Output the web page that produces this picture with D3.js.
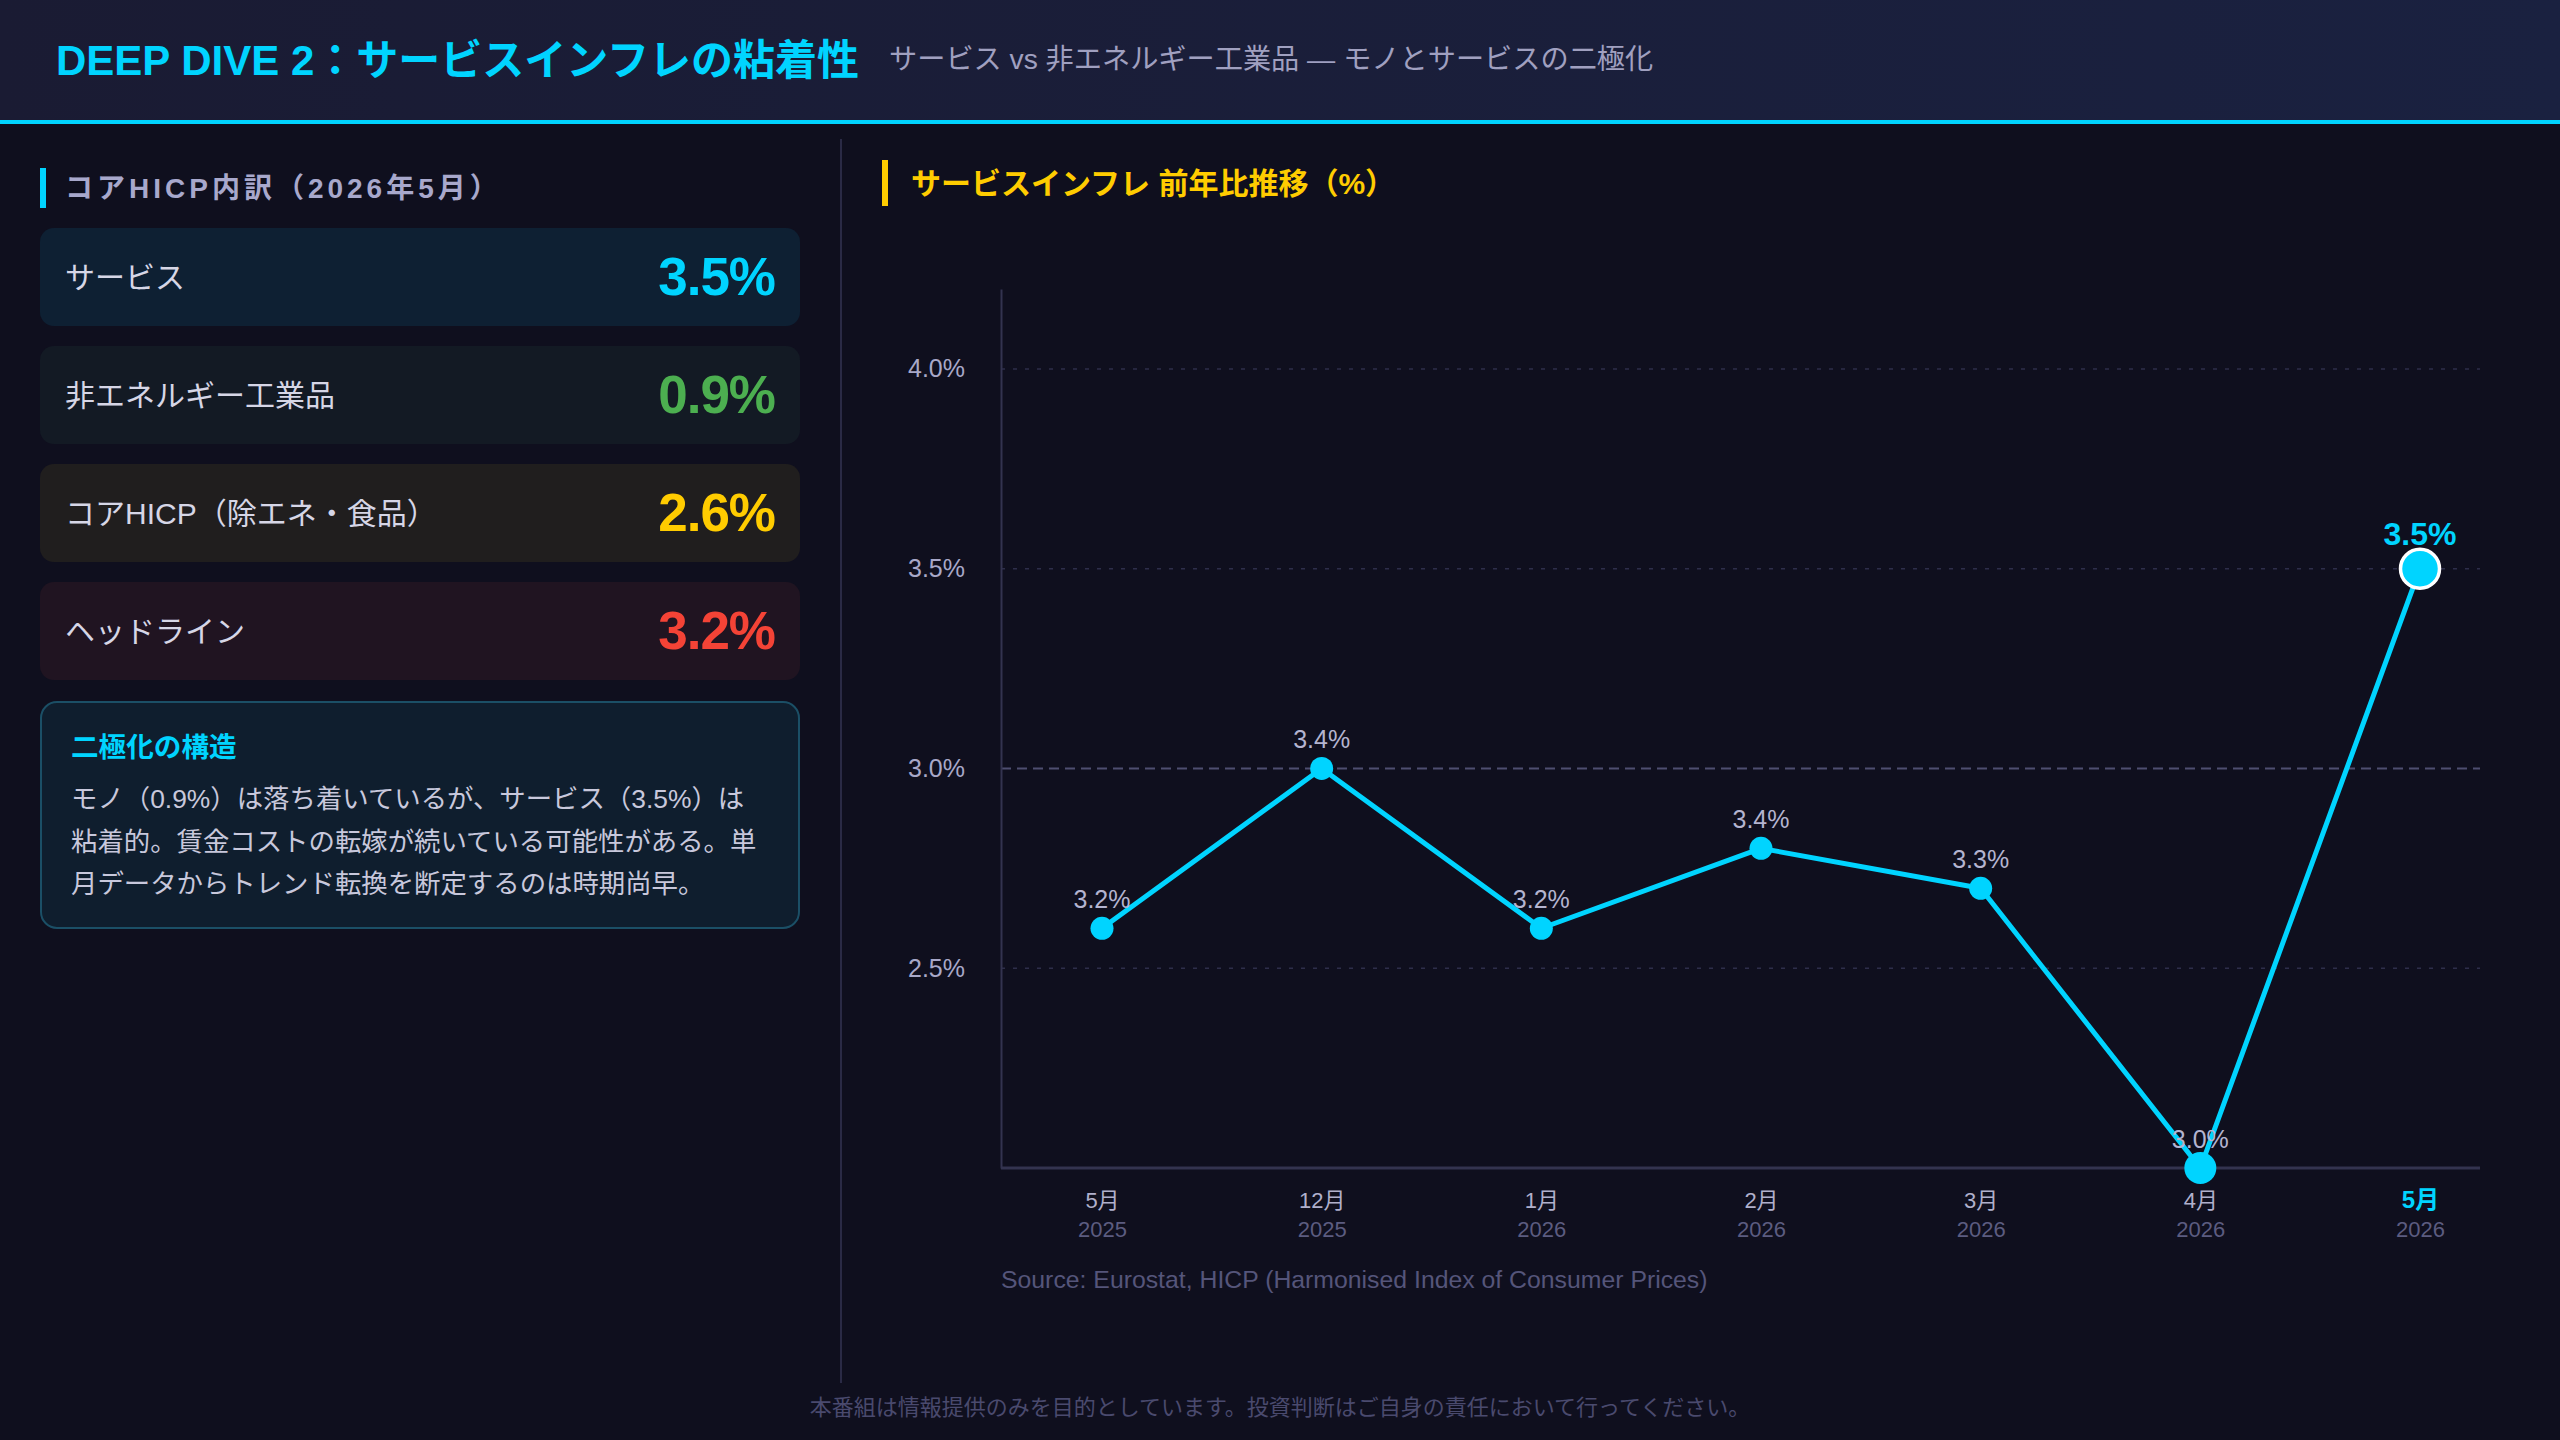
<!DOCTYPE html>
<html><head><meta charset="utf-8">
<script src="https://cdn.jsdelivr.net/npm/d3@7"></script>
<style>
html,body{margin:0;padding:0;background:#0f0f1e;}
svg{display:block;}
text{font-family:"Liberation Sans","Noto Sans CJK JP",sans-serif;}
</style></head>
<body>
<svg id="chart" width="2560" height="1440"></svg>
<script>
// ---------- data ----------
const titleMain = "DEEP DIVE 2：サービスインフレの粘着性";
const titleSub = "サービス vs 非エネルギー工業品 — モノとサービスの二極化";
const leftTitle = "コアHICP内訳（2026年5月）";
const cardLabels = ["サービス", "非エネルギー工業品", "コアHICP（除エネ・食品）", "ヘッドライン"];
const cardValues = [3.5, 0.9, 2.6, 3.2];
const insightTitle = "二極化の構造";
const insightLines = [
  "モノ（0.9%）は落ち着いているが、サービス（3.5%）は",
  "粘着的。賃金コストの転嫁が続いている可能性がある。単",
  "月データからトレンド転換を断定するのは時期尚早。"
];
const chartTitle = "サービスインフレ 前年比推移（%）";
const monthLabels = ["5月", "12月", "1月", "2月", "3月", "4月", "5月"];
const yearLabels = ["2025", "2025", "2026", "2026", "2026", "2026", "2026"];
const plottedValues = [2.6, 3.0, 2.6, 2.8, 2.7, 2.0, 3.5];   // point heights as drawn
const labelValues = [3.2, 3.4, 3.2, 3.4, 3.3, 3.0, 3.5];     // printed point labels
const yTickValues = [2.5, 3.0, 3.5, 4.0];
const sourceText = "Source: Eurostat, HICP (Harmonised Index of Consumer Prices)";
const footerText = "本番組は情報提供のみを目的としています。投資判断はご自身の責任において行ってください。";

// ---------- styles ----------
const CYAN = "#00d4ff";
const cardFills = ["#0e2033", "#131a24", "#201e1e", "#201421"];
const cardValueColors = ["#00d4ff", "#4caf50", "#ffcc00", "#f44336"];

const svg = d3.select("#chart");

// background
svg.append("rect").attr("width", 2560).attr("height", 1440).attr("fill", "#0f0f1e");

// header
const defs = svg.append("defs");
const hg = defs.append("linearGradient").attr("id", "hdr").attr("x1", "0").attr("x2", "1").attr("y1", "0").attr("y2", "0");
hg.append("stop").attr("offset", "0").attr("stop-color", "#1a1b33");
hg.append("stop").attr("offset", "1").attr("stop-color", "#1a2140");
svg.append("rect").attr("x", 0).attr("y", 0).attr("width", 2560).attr("height", 120).attr("fill", "url(#hdr)");
svg.append("rect").attr("x", 0).attr("y", 120).attr("width", 2560).attr("height", 4).attr("fill", CYAN);

svg.append("text").attr("x", 56).attr("y", 75)
  .attr("font-size", 42).attr("font-weight", 700).attr("fill", CYAN)
  .text(titleMain);
svg.append("text").attr("x", 889).attr("y", 69)
  .attr("font-size", 28.2).attr("fill", "#a0a0c0")
  .text(titleSub);

// ---------- left panel ----------
svg.append("rect").attr("x", 40).attr("y", 168).attr("width", 6).attr("height", 40).attr("fill", CYAN);
svg.append("text").attr("x", 65).attr("y", 188).attr("dominant-baseline", "central")
  .attr("font-size", 28).attr("font-weight", 700).attr("fill", "#a8a8cc")
  .attr("letter-spacing", 4)
  .text(leftTitle);

const cards = svg.append("g").selectAll("g").data(cardLabels).join("g")
  .attr("transform", (d, i) => `translate(40,${228 + i * 118})`);
cards.append("rect").attr("width", 760).attr("height", 98).attr("rx", 14)
  .attr("fill", (d, i) => cardFills[i]);
cards.append("text").attr("x", 25).attr("y", 49).attr("dominant-baseline", "central")
  .attr("font-size", 30).attr("fill", "#d6d6e6").text(d => d);
cards.append("text").attr("x", 735).attr("y", 67).attr("text-anchor", "end")
  .attr("font-size", 53).attr("font-weight", 700).attr("letter-spacing", -1)
  .attr("fill", (d, i) => cardValueColors[i])
  .text((d, i) => cardValues[i].toFixed(1) + "%");

// insight box
svg.append("rect").attr("x", 41).attr("y", 702).attr("width", 758).attr("height", 226).attr("rx", 16)
  .attr("fill", "#0f1e2e").attr("stroke", "#1b4f66").attr("stroke-width", 2);
svg.append("text").attr("x", 71).attr("y", 747).attr("dominant-baseline", "central")
  .attr("font-size", 27.6).attr("font-weight", 700).attr("fill", CYAN).text(insightTitle);
svg.append("g").selectAll("text").data(insightLines).join("text")
  .attr("x", 71).attr("y", (d, i) => 799 + i * 42.5).attr("dominant-baseline", "central")
  .attr("font-size", 26.4).attr("fill", "#c8c8dc").text(d => d);

// divider
svg.append("line").attr("x1", 841).attr("x2", 841).attr("y1", 139).attr("y2", 1383)
  .attr("stroke", "#2a2a45").attr("stroke-width", 2);

// ---------- right chart ----------
svg.append("rect").attr("x", 882).attr("y", 160).attr("width", 6).attr("height", 46).attr("fill", "#ffcc00");
svg.append("text").attr("x", 911).attr("y", 183).attr("dominant-baseline", "central")
  .attr("font-size", 30).attr("font-weight", 700).attr("fill", "#ffcc00").text(chartTitle);

const plotL = 1001, plotR = 2480, plotT = 289, plotB = 1168;
const y = d3.scaleLinear().domain([2.0, 4.2]).range([plotB, plotT]);
const idx = d3.range(monthLabels.length);
const x = d3.scalePoint().domain(idx).range([plotL + 101, plotR - 60]);

// gridlines
const grid = svg.append("g");
grid.selectAll("line").data(yTickValues).join("line")
  .attr("x1", plotL).attr("x2", plotR)
  .attr("y1", d => y(d)).attr("y2", d => y(d))
  .attr("stroke", d => d === 3.0 ? "#4e4e70" : "#2e2e4a")
  .attr("stroke-width", d => d === 3.0 ? 2 : 1.5)
  .attr("stroke-dasharray", d => d === 3.0 ? "10,6" : "4,8");

// y axis
const yAxis = svg.append("g").attr("transform", `translate(${plotL},0)`)
  .call(d3.axisLeft(y).tickValues(yTickValues).tickFormat(d => d.toFixed(1) + "%").tickSize(0).tickPadding(36));
yAxis.select(".domain").attr("stroke", "#33334f").attr("stroke-width", 2);
yAxis.selectAll("text").attr("font-size", 25).attr("fill", "#a8a8c8")
  .attr("font-family", '"Liberation Sans","Noto Sans CJK JP",sans-serif');

// x axis
const xAxisG = svg.append("g").attr("transform", `translate(0,${plotB})`)
  .call(d3.axisBottom(x).tickSize(0).tickFormat(() => ""));
xAxisG.select(".domain").attr("d", `M${plotL},0H${plotR}`).attr("stroke", "#33334f").attr("stroke-width", 3);
xAxisG.selectAll(".tick text").remove();
const lastI = monthLabels.length - 1;
xAxisG.selectAll(".tick").append("text")
  .attr("y", 40).attr("text-anchor", "middle")
  .attr("font-size", d => d === lastI ? 24 : 22)
  .attr("font-weight", d => d === lastI ? 700 : 400)
  .attr("fill", d => d === lastI ? CYAN : "#b0b0cc")
  .text(d => monthLabels[d]);
xAxisG.selectAll(".tick").append("text")
  .attr("y", 69).attr("text-anchor", "middle")
  .attr("font-size", 22).attr("fill", "#5c5c80")
  .text(d => yearLabels[d]);

// line
const line = d3.line().x((d, i) => x(i)).y(d => y(d));
svg.append("path").datum(plottedValues).attr("d", line)
  .attr("fill", "none").attr("stroke", CYAN).attr("stroke-width", 5)
  .attr("stroke-linejoin", "round").attr("stroke-linecap", "round");

// points
const minI = plottedValues.indexOf(d3.min(plottedValues));
svg.append("g").selectAll("circle").data(plottedValues).join("circle")
  .attr("cx", (d, i) => x(i)).attr("cy", d => y(d))
  .attr("r", (d, i) => i === lastI ? 19.5 : (i === minI ? 16 : 11.5))
  .attr("fill", CYAN)
  .attr("stroke", (d, i) => i === lastI ? "#ffffff" : "none")
  .attr("stroke-width", (d, i) => i === lastI ? 3.5 : 0);

// point labels
svg.append("g").selectAll("text").data(labelValues).join("text")
  .attr("x", (d, i) => x(i))
  .attr("y", (d, i) => y(plottedValues[i]) - (i === lastI ? 24 : 20))
  .attr("text-anchor", "middle")
  .attr("font-size", (d, i) => i === lastI ? 32 : 25)
  .attr("font-weight", (d, i) => i === lastI ? 700 : 400)
  .attr("fill", (d, i) => i === lastI ? CYAN : "#b4b4d0")
  .text(d => d.toFixed(1) + "%");

// source
svg.append("text").attr("x", plotL).attr("y", 1288)
  .attr("font-size", 24.8).attr("fill", "#55557a").text(sourceText);

// footer
svg.append("text").attr("x", 1280).attr("y", 1415).attr("text-anchor", "middle")
  .attr("font-size", 22).attr("fill", "#4a4a6e").text(footerText);
</script>
</body></html>
